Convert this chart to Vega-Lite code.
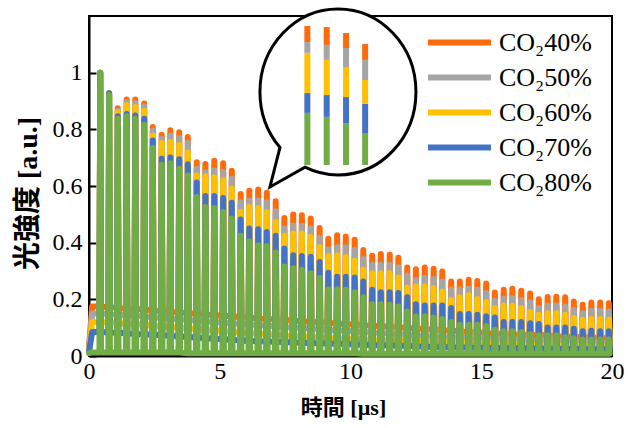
{
"$schema": "https://vega.github.io/schema/vega-lite/v6.json",
"width": 523, "height": 340,
"autosize": "none",
"padding": {"left": 89, "top": 16, "right": 20, "bottom": 72},
"background": "white",
"config": {
  "view": {"stroke": "black", "strokeWidth": 2},
  "axis": {"labelFont": "Liberation Serif", "labelColor": "black", "titleColor": "black", "domainColor": "black", "domainWidth": 2, "tickColor": "black", "grid": false, "titleFont": "Liberation Serif, Noto Sans CJK JP"}
},
"datasets": {
"pulses": [
{"t":0,"a":0.03,"b":0.025,"c":0.02,"d":0.015,"e":0.01},
{"t":0.12,"a":0.175,"b":0.15,"c":0.12,"d":0.085,"e":0.012},
{"t":0.40,"a":0.175,"b":0.15,"c":0.12,"d":0.085,"e":0.012},{"t":0.43,"a":1,"b":1,"c":1,"d":1,"e":1},{"t":0.46,"a":0.175,"b":0.15,"c":0.12,"d":0.085,"e":0.012},
{"t":0.74,"a":0.172,"b":0.148,"c":0.118,"d":0.083,"e":0.012},{"t":0.77,"a":0.927,"b":0.927,"c":0.927,"d":0.927,"e":0.921},{"t":0.80,"a":0.172,"b":0.148,"c":0.118,"d":0.083,"e":0.012},
{"t":1.07,"a":0.17,"b":0.146,"c":0.116,"d":0.082,"e":0.012},{"t":1.10,"a":0.874,"b":0.866,"c":0.86,"d":0.846,"e":0.837},{"t":1.13,"a":0.17,"b":0.146,"c":0.116,"d":0.082,"e":0.012},
{"t":1.41,"a":0.168,"b":0.144,"c":0.114,"d":0.08,"e":0.012},{"t":1.44,"a":0.905,"b":0.896,"c":0.886,"d":0.854,"e":0.846},{"t":1.47,"a":0.168,"b":0.144,"c":0.114,"d":0.08,"e":0.012},
{"t":1.74,"a":0.166,"b":0.142,"c":0.112,"d":0.078,"e":0.012},{"t":1.77,"a":0.905,"b":0.893,"c":0.879,"d":0.849,"e":0.837},{"t":1.80,"a":0.166,"b":0.142,"c":0.112,"d":0.078,"e":0.012},
{"t":2.08,"a":0.164,"b":0.14,"c":0.11,"d":0.077,"e":0.012},{"t":2.11,"a":0.891,"b":0.881,"c":0.866,"d":0.837,"e":0.816},{"t":2.14,"a":0.164,"b":0.14,"c":0.11,"d":0.077,"e":0.012},
{"t":2.41,"a":0.161,"b":0.137,"c":0.107,"d":0.075,"e":0.012},{"t":2.44,"a":0.808,"b":0.795,"c":0.778,"d":0.761,"e":0.734},{"t":2.47,"a":0.161,"b":0.137,"c":0.107,"d":0.075,"e":0.012},
{"t":2.75,"a":0.158,"b":0.134,"c":0.104,"d":0.073,"e":0.012},{"t":2.78,"a":0.781,"b":0.766,"c":0.752,"d":0.696,"e":0.675},{"t":2.81,"a":0.158,"b":0.134,"c":0.104,"d":0.073,"e":0.012},
{"t":3.08,"a":0.156,"b":0.132,"c":0.102,"d":0.071,"e":0.012},{"t":3.11,"a":0.797,"b":0.778,"c":0.755,"d":0.701,"e":0.68},{"t":3.14,"a":0.156,"b":0.132,"c":0.102,"d":0.071,"e":0.012},
{"t":3.42,"a":0.154,"b":0.13,"c":0.1,"d":0.069,"e":0.012},{"t":3.45,"a":0.79,"b":0.769,"c":0.745,"d":0.694,"e":0.661},{"t":3.48,"a":0.154,"b":0.13,"c":0.1,"d":0.069,"e":0.012},
{"t":3.75,"a":0.152,"b":0.128,"c":0.098,"d":0.067,"e":0.01},{"t":3.78,"a":0.773,"b":0.752,"c":0.719,"d":0.677,"e":0.637},{"t":3.81,"a":0.152,"b":0.128,"c":0.098,"d":0.067,"e":0.01},
{"t":4.09,"a":0.149,"b":0.125,"c":0.095,"d":0.065,"e":0.01},{"t":4.12,"a":0.684,"b":0.661,"c":0.637,"d":0.612,"e":0.561},{"t":4.15,"a":0.149,"b":0.125,"c":0.095,"d":0.065,"e":0.01},
{"t":4.42,"a":0.146,"b":0.122,"c":0.092,"d":0.063,"e":0.01},{"t":4.45,"a":0.678,"b":0.649,"c":0.634,"d":0.565,"e":0.526},{"t":4.48,"a":0.146,"b":0.122,"c":0.092,"d":0.063,"e":0.01},
{"t":4.76,"a":0.144,"b":0.12,"c":0.09,"d":0.061,"e":0.01},{"t":4.79,"a":0.689,"b":0.655,"c":0.631,"d":0.565,"e":0.522},{"t":4.82,"a":0.144,"b":0.12,"c":0.09,"d":0.061,"e":0.01},
{"t":5.10,"a":0.142,"b":0.118,"c":0.088,"d":0.059,"e":0.01},{"t":5.13,"a":0.68,"b":0.649,"c":0.62,"d":0.558,"e":0.508},{"t":5.16,"a":0.142,"b":0.118,"c":0.088,"d":0.059,"e":0.01},
{"t":5.43,"a":0.14,"b":0.116,"c":0.086,"d":0.057,"e":0.01},{"t":5.46,"a":0.654,"b":0.626,"c":0.59,"d":0.541,"e":0.485},{"t":5.49,"a":0.14,"b":0.116,"c":0.086,"d":0.057,"e":0.01},
{"t":5.77,"a":0.137,"b":0.113,"c":0.083,"d":0.055,"e":0.01},{"t":5.80,"a":0.572,"b":0.543,"c":0.508,"d":0.482,"e":0.424},{"t":5.83,"a":0.137,"b":0.113,"c":0.083,"d":0.055,"e":0.01},
{"t":6.10,"a":0.135,"b":0.111,"c":0.081,"d":0.053,"e":0.01},{"t":6.13,"a":0.583,"b":0.549,"c":0.526,"d":0.45,"e":0.405},{"t":6.16,"a":0.135,"b":0.111,"c":0.081,"d":0.053,"e":0.01},
{"t":6.44,"a":0.133,"b":0.109,"c":0.079,"d":0.052,"e":0.01},{"t":6.47,"a":0.588,"b":0.549,"c":0.522,"d":0.447,"e":0.391},{"t":6.50,"a":0.133,"b":0.109,"c":0.079,"d":0.052,"e":0.01},
{"t":6.77,"a":0.131,"b":0.107,"c":0.077,"d":0.051,"e":0.01},{"t":6.80,"a":0.576,"b":0.543,"c":0.508,"d":0.438,"e":0.388},{"t":6.83,"a":0.131,"b":0.107,"c":0.077,"d":0.051,"e":0.01},
{"t":7.11,"a":0.129,"b":0.105,"c":0.075,"d":0.05,"e":0.01},{"t":7.14,"a":0.546,"b":0.511,"c":0.473,"d":0.424,"e":0.365},{"t":7.17,"a":0.129,"b":0.105,"c":0.075,"d":0.05,"e":0.01},
{"t":7.44,"a":0.127,"b":0.103,"c":0.073,"d":0.049,"e":0.01},{"t":7.47,"a":0.487,"b":0.45,"c":0.424,"d":0.379,"e":0.316},{"t":7.50,"a":0.127,"b":0.103,"c":0.073,"d":0.049,"e":0.01},
{"t":7.78,"a":0.125,"b":0.101,"c":0.071,"d":0.048,"e":0.01},{"t":7.81,"a":0.499,"b":0.461,"c":0.432,"d":0.356,"e":0.31},{"t":7.84,"a":0.125,"b":0.101,"c":0.071,"d":0.048,"e":0.01},
{"t":8.11,"a":0.123,"b":0.099,"c":0.069,"d":0.047,"e":0.01},{"t":8.14,"a":0.497,"b":0.459,"c":0.432,"d":0.353,"e":0.304},{"t":8.17,"a":0.123,"b":0.099,"c":0.069,"d":0.047,"e":0.01},
{"t":8.45,"a":0.121,"b":0.097,"c":0.067,"d":0.046,"e":0.01},{"t":8.48,"a":0.485,"b":0.45,"c":0.42,"d":0.35,"e":0.292},{"t":8.51,"a":0.121,"b":0.097,"c":0.067,"d":0.046,"e":0.01},
{"t":8.79,"a":0.119,"b":0.095,"c":0.065,"d":0.045,"e":0.01},{"t":8.82,"a":0.452,"b":0.417,"c":0.385,"d":0.332,"e":0.275},{"t":8.85,"a":0.119,"b":0.095,"c":0.065,"d":0.045,"e":0.01},
{"t":9.12,"a":0.117,"b":0.093,"c":0.063,"d":0.044,"e":0.01},{"t":9.15,"a":0.414,"b":0.377,"c":0.353,"d":0.294,"e":0.236},{"t":9.18,"a":0.117,"b":0.093,"c":0.063,"d":0.044,"e":0.01},
{"t":9.46,"a":0.115,"b":0.091,"c":0.062,"d":0.043,"e":0.01},{"t":9.49,"a":0.426,"b":0.385,"c":0.356,"d":0.28,"e":0.236},{"t":9.52,"a":0.115,"b":0.091,"c":0.062,"d":0.043,"e":0.01},
{"t":9.79,"a":0.113,"b":0.089,"c":0.061,"d":0.042,"e":0.01},{"t":9.82,"a":0.422,"b":0.384,"c":0.349,"d":0.28,"e":0.234},{"t":9.85,"a":0.113,"b":0.089,"c":0.061,"d":0.042,"e":0.01},
{"t":10.13,"a":0.111,"b":0.087,"c":0.06,"d":0.041,"e":0.01},{"t":10.16,"a":0.41,"b":0.374,"c":0.336,"d":0.277,"e":0.225},{"t":10.19,"a":0.111,"b":0.087,"c":0.06,"d":0.041,"e":0.01},
{"t":10.46,"a":0.109,"b":0.085,"c":0.059,"d":0.04,"e":0.008},{"t":10.49,"a":0.374,"b":0.342,"c":0.304,"d":0.263,"e":0.207},{"t":10.52,"a":0.109,"b":0.085,"c":0.059,"d":0.04,"e":0.008},
{"t":10.80,"a":0.107,"b":0.083,"c":0.058,"d":0.039,"e":0.008},{"t":10.83,"a":0.354,"b":0.322,"c":0.292,"d":0.234,"e":0.183},{"t":10.86,"a":0.107,"b":0.083,"c":0.058,"d":0.039,"e":0.008},
{"t":11.13,"a":0.105,"b":0.081,"c":0.057,"d":0.038,"e":0.008},{"t":11.16,"a":0.36,"b":0.322,"c":0.292,"d":0.225,"e":0.183},{"t":11.19,"a":0.105,"b":0.081,"c":0.057,"d":0.038,"e":0.008},
{"t":11.47,"a":0.103,"b":0.079,"c":0.056,"d":0.037,"e":0.008},{"t":11.50,"a":0.357,"b":0.322,"c":0.292,"d":0.225,"e":0.181},{"t":11.53,"a":0.103,"b":0.079,"c":0.056,"d":0.037,"e":0.008},
{"t":11.80,"a":0.101,"b":0.077,"c":0.055,"d":0.036,"e":0.008},{"t":11.83,"a":0.347,"b":0.313,"c":0.277,"d":0.222,"e":0.175},{"t":11.86,"a":0.101,"b":0.077,"c":0.055,"d":0.036,"e":0.008},
{"t":12.14,"a":0.099,"b":0.075,"c":0.054,"d":0.035,"e":0.008},{"t":12.17,"a":0.312,"b":0.284,"c":0.242,"d":0.207,"e":0.157},{"t":12.20,"a":0.099,"b":0.075,"c":0.054,"d":0.035,"e":0.008},
{"t":12.47,"a":0.097,"b":0.073,"c":0.053,"d":0.034,"e":0.008},{"t":12.50,"a":0.306,"b":0.269,"c":0.245,"d":0.183,"e":0.14},{"t":12.53,"a":0.097,"b":0.073,"c":0.053,"d":0.034,"e":0.008},
{"t":12.81,"a":0.095,"b":0.071,"c":0.052,"d":0.033,"e":0.008},{"t":12.84,"a":0.312,"b":0.275,"c":0.245,"d":0.178,"e":0.14},{"t":12.87,"a":0.095,"b":0.071,"c":0.052,"d":0.033,"e":0.008},
{"t":13.15,"a":0.093,"b":0.069,"c":0.051,"d":0.032,"e":0.008},{"t":13.18,"a":0.308,"b":0.272,"c":0.239,"d":0.178,"e":0.136},{"t":13.21,"a":0.093,"b":0.069,"c":0.051,"d":0.032,"e":0.008},
{"t":13.48,"a":0.091,"b":0.067,"c":0.05,"d":0.031,"e":0.008},{"t":13.51,"a":0.298,"b":0.263,"c":0.228,"d":0.178,"e":0.131},{"t":13.54,"a":0.091,"b":0.067,"c":0.05,"d":0.031,"e":0.008},
{"t":13.82,"a":0.089,"b":0.066,"c":0.049,"d":0.031,"e":0.008},{"t":13.85,"a":0.263,"b":0.234,"c":0.198,"d":0.169,"e":0.12},{"t":13.88,"a":0.089,"b":0.066,"c":0.049,"d":0.031,"e":0.008},
{"t":14.15,"a":0.087,"b":0.065,"c":0.048,"d":0.03,"e":0.008},{"t":14.18,"a":0.263,"b":0.234,"c":0.207,"d":0.148,"e":0.11},{"t":14.21,"a":0.087,"b":0.065,"c":0.048,"d":0.03,"e":0.008},
{"t":14.49,"a":0.085,"b":0.064,"c":0.047,"d":0.03,"e":0.008},{"t":14.52,"a":0.269,"b":0.237,"c":0.214,"d":0.148,"e":0.11},{"t":14.55,"a":0.085,"b":0.064,"c":0.047,"d":0.03,"e":0.008},
{"t":14.82,"a":0.083,"b":0.063,"c":0.046,"d":0.029,"e":0.008},{"t":14.85,"a":0.265,"b":0.234,"c":0.201,"d":0.146,"e":0.11},{"t":14.88,"a":0.083,"b":0.063,"c":0.046,"d":0.029,"e":0.008},
{"t":15.16,"a":0.081,"b":0.062,"c":0.045,"d":0.029,"e":0.008},{"t":15.19,"a":0.256,"b":0.222,"c":0.19,"d":0.14,"e":0.106},{"t":15.22,"a":0.081,"b":0.062,"c":0.045,"d":0.029,"e":0.008},
{"t":15.49,"a":0.079,"b":0.061,"c":0.044,"d":0.028,"e":0.008},{"t":15.52,"a":0.224,"b":0.195,"c":0.169,"d":0.136,"e":0.093},{"t":15.55,"a":0.079,"b":0.061,"c":0.044,"d":0.028,"e":0.008},
{"t":15.83,"a":0.078,"b":0.06,"c":0.043,"d":0.028,"e":0.008},{"t":15.86,"a":0.234,"b":0.202,"c":0.178,"d":0.12,"e":0.087},{"t":15.89,"a":0.078,"b":0.06,"c":0.043,"d":0.028,"e":0.008},
{"t":16.16,"a":0.077,"b":0.059,"c":0.042,"d":0.027,"e":0.008},{"t":16.19,"a":0.237,"b":0.204,"c":0.177,"d":0.12,"e":0.087},{"t":16.22,"a":0.077,"b":0.059,"c":0.042,"d":0.027,"e":0.008},
{"t":16.50,"a":0.076,"b":0.058,"c":0.041,"d":0.027,"e":0.008},{"t":16.53,"a":0.23,"b":0.198,"c":0.169,"d":0.12,"e":0.085},{"t":16.56,"a":0.076,"b":0.058,"c":0.041,"d":0.027,"e":0.008},
{"t":16.84,"a":0.075,"b":0.057,"c":0.04,"d":0.027,"e":0.008},{"t":16.87,"a":0.221,"b":0.19,"c":0.155,"d":0.116,"e":0.077},{"t":16.90,"a":0.075,"b":0.057,"c":0.04,"d":0.027,"e":0.008},
{"t":17.17,"a":0.074,"b":0.056,"c":0.039,"d":0.026,"e":0.008},{"t":17.20,"a":0.2,"b":0.169,"c":0.146,"d":0.113,"e":0.073},{"t":17.23,"a":0.074,"b":0.056,"c":0.039,"d":0.026,"e":0.008},
{"t":17.51,"a":0.072,"b":0.054,"c":0.038,"d":0.026,"e":0.008},{"t":17.54,"a":0.208,"b":0.178,"c":0.151,"d":0.101,"e":0.073},{"t":17.57,"a":0.072,"b":0.054,"c":0.038,"d":0.026,"e":0.008},
{"t":17.84,"a":0.07,"b":0.052,"c":0.037,"d":0.026,"e":0.008},{"t":17.87,"a":0.209,"b":0.178,"c":0.151,"d":0.101,"e":0.073},{"t":17.90,"a":0.07,"b":0.052,"c":0.037,"d":0.026,"e":0.008},
{"t":18.18,"a":0.069,"b":0.051,"c":0.036,"d":0.025,"e":0.008},{"t":18.21,"a":0.207,"b":0.175,"c":0.146,"d":0.101,"e":0.066},{"t":18.24,"a":0.069,"b":0.051,"c":0.036,"d":0.025,"e":0.008},
{"t":18.51,"a":0.068,"b":0.05,"c":0.036,"d":0.025,"e":0.008},{"t":18.54,"a":0.192,"b":0.163,"c":0.134,"d":0.096,"e":0.063},{"t":18.57,"a":0.068,"b":0.05,"c":0.036,"d":0.025,"e":0.008},
{"t":18.85,"a":0.066,"b":0.049,"c":0.035,"d":0.025,"e":0.008},{"t":18.88,"a":0.181,"b":0.151,"c":0.128,"d":0.087,"e":0.058},{"t":18.91,"a":0.066,"b":0.049,"c":0.035,"d":0.025,"e":0.008},
{"t":19.18,"a":0.065,"b":0.048,"c":0.035,"d":0.024,"e":0.008},{"t":19.21,"a":0.189,"b":0.16,"c":0.131,"d":0.089,"e":0.058},{"t":19.24,"a":0.065,"b":0.048,"c":0.035,"d":0.024,"e":0.008},
{"t":19.52,"a":0.064,"b":0.047,"c":0.034,"d":0.024,"e":0.008},{"t":19.55,"a":0.189,"b":0.16,"c":0.131,"d":0.087,"e":0.058},{"t":19.58,"a":0.064,"b":0.047,"c":0.034,"d":0.024,"e":0.008},
{"t":19.85,"a":0.063,"b":0.046,"c":0.034,"d":0.024,"e":0.008},{"t":19.88,"a":0.186,"b":0.157,"c":0.128,"d":0.087,"e":0.058},{"t":19.91,"a":0.063,"b":0.046,"c":0.034,"d":0.024,"e":0.008}
],
"bubble": [{"t": 9.52, "v": 0.932}],
"inset": [
{"t":8.35,"v":0.674,"v2":0.858,"s":"e"},{"t":8.35,"v":0.858,"v2":0.928,"s":"d"},{"t":8.35,"v":0.928,"v2":1.07,"s":"c"},{"t":8.35,"v":1.07,"v2":1.108,"s":"b"},{"t":8.35,"v":1.108,"v2":1.165,"s":"a"},
{"t":9.09,"v":0.674,"v2":0.844,"s":"e"},{"t":9.09,"v":0.844,"v2":0.921,"s":"d"},{"t":9.09,"v":0.921,"v2":1.045,"s":"c"},{"t":9.09,"v":1.045,"v2":1.098,"s":"b"},{"t":9.09,"v":1.098,"v2":1.161,"s":"a"},
{"t":9.83,"v":0.674,"v2":0.822,"s":"e"},{"t":9.83,"v":0.822,"v2":0.914,"s":"d"},{"t":9.83,"v":0.914,"v2":1.02,"s":"c"},{"t":9.83,"v":1.02,"v2":1.087,"s":"b"},{"t":9.83,"v":1.087,"v2":1.14,"s":"a"},
{"t":10.56,"v":0.674,"v2":0.787,"s":"e"},{"t":10.56,"v":0.787,"v2":0.89,"s":"d"},{"t":10.56,"v":0.89,"v2":0.974,"s":"c"},{"t":10.56,"v":0.974,"v2":1.045,"s":"b"},{"t":10.56,"v":1.045,"v2":1.101,"s":"a"}
]
},
"layer": [
{
  "data": {"name": "pulses"},
  "transform": [{"fold": ["a","b","c","d","e"], "as": ["s","v"]}],
  "mark": {"type": "line", "strokeWidth": 6, "strokeCap": "round", "strokeJoin": "round"},
  "encoding": {
    "x": {"field": "t", "type": "quantitative", "scale": {"domain": [0, 20], "nice": false},
          "axis": {"values": [0,5,10,15,20], "ticks": false, "labelFontSize": 24, "labelPadding": 3, "title": "時間 [µs]", "titleFontSize": 22, "titleFontWeight": "bold", "titlePadding": 14, "titleX": 254, "labelFlush": false}},
    "y": {"field": "v", "type": "quantitative", "scale": {"domain": [0, 1.2], "nice": false},
          "axis": {"values": [0,0.2,0.4,0.6,0.8,1], "format": "~g", "tickSize": -7, "tickWidth": 2, "labelFontSize": 24, "labelPadding": 14, "title": "光強度 [a.u.]", "titleFontSize": 28, "titleFontWeight": "bold", "titlePadding": 10, "titleY": 177}},
    "color": {"field": "s", "type": "nominal",
      "scale": {"domain": ["a","b","c","d","e"], "range": ["#FF6A0A","#A5A5A5","#FFC000","#4472C4","#70AD47"]},
      "legend": {"orient": "none", "legendX": 336, "legendY": 9, "title": null, "symbolType": "stroke", "symbolSize": 3969, "symbolStrokeWidth": 6, "clipHeight": 35, "labelFont": "Liberation Serif", "labelFontSize": 26, "labelColor": "black", "labelOffset": 5, "rowPadding": 0, "labelExpr": "{'a':'CO₂40%','b':'CO₂50%','c':'CO₂60%','d':'CO₂70%','e':'CO₂80%'}[datum.label]"}}
  }
},
{
  "data": {"name": "bubble"},
  "mark": {"type": "point", "shape": "M-0.3296,0.7522C-0.2264,0.8034 -0.1139,0.83 0,0.83C0.4308,0.83 0.78,0.4584 0.78,0C0.78,-0.4584 0.4308,-0.83 0,-0.83C-0.4308,-0.83 -0.78,-0.4584 -0.78,0C-0.78,0.2051 -0.7086,0.403 -0.5796,0.5554L-0.68,0.95Z", "size": 40000, "filled": true, "fill": "white", "stroke": "black", "strokeWidth": 3, "opacity": 1, "fillOpacity": 1, "strokeOpacity": 1, "strokeJoin": "miter"},
  "encoding": {
    "x": {"field": "t", "type": "quantitative"},
    "y": {"field": "v", "type": "quantitative"}
  }
},
{
  "data": {"name": "inset"},
  "mark": {"type": "rule", "strokeWidth": 6, "strokeCap": "butt"},
  "encoding": {
    "x": {"field": "t", "type": "quantitative"},
    "y": {"field": "v", "type": "quantitative"},
    "y2": {"field": "v2"},
    "color": {"field": "s", "type": "nominal", "legend": null}
  }
}
]
}
